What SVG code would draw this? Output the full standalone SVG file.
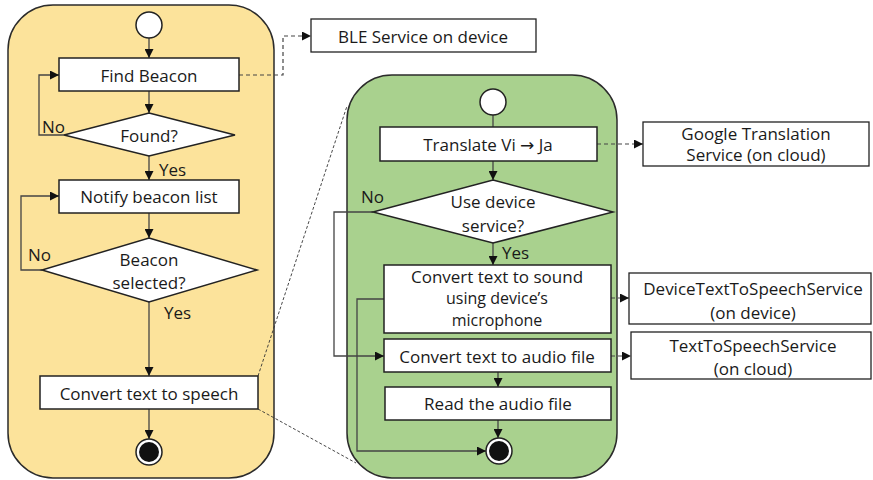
<svg xmlns="http://www.w3.org/2000/svg" width="873" height="480" viewBox="0 0 873 480">
  <defs>
    <marker id="arrow" viewBox="0 0 10 10" refX="10" refY="5" markerWidth="9" markerHeight="9" markerUnits="userSpaceOnUse" orient="auto">
      <path d="M0,0 L10,5 L0,10 z" fill="#111"/>
    </marker>
    <style>
      .lane { stroke: #2b2b2b; stroke-width: 1.5; }
      .box { fill: #fff; stroke: #222; stroke-width: 1.5; }
      .ext { fill: #fff; stroke: #222; stroke-width: 1.3; }
      .flow { fill: none; stroke: #444; stroke-width: 1.3; }
      .dash { fill: none; stroke: #444; stroke-width: 1.2; stroke-dasharray: 4 3; }
      .zoom { fill: none; stroke: #333; stroke-width: 0.9; stroke-dasharray: 3 2; }
      .start { fill: #fff; stroke: #222; stroke-width: 1.5; }
      text { font-family: "Open Sans", "Noto Sans", "DejaVu Sans", sans-serif; font-size: 17px; fill: #1a1a1a; text-anchor: middle; dominant-baseline: central; }
      .lbl { text-anchor: start; }
      .tight { font-size: 16px; }
    </style>
  </defs>

  <!-- swimlane backgrounds -->
  <rect id="lane-phone" class="lane" x="8" y="5" width="266" height="473" rx="45" ry="45" fill="#FCE39B"/>
  <rect id="lane-speech" class="lane" x="347" y="75" width="270" height="403" rx="45" ry="45" fill="#A9D18E"/>

  <!-- connectors -->
  <g id="connectors">
    <!-- phone lane -->
    <path class="flow" d="M149,38 V58" marker-end="url(#arrow)"/>
    <path class="flow" d="M149,91 V113" marker-end="url(#arrow)"/>
    <path class="flow" d="M64,135 H39 V75 H59" marker-end="url(#arrow)"/>
    <path class="flow" d="M149,156 V180" marker-end="url(#arrow)"/>
    <path class="flow" d="M149,213 V238" marker-end="url(#arrow)"/>
    <path class="flow" d="M42,270 H21 V196 H59" marker-end="url(#arrow)"/>
    <path class="flow" d="M149,302 V376" marker-end="url(#arrow)"/>
    <path class="flow" d="M149,409 V439" marker-end="url(#arrow)"/>
    <path class="dash" d="M239,75 H283 V36 H311" marker-end="url(#arrow)"/>

    <!-- detail lines -->
    <path class="zoom" d="M258,376 L347,106"/>
    <path class="zoom" d="M258,409 L356,463"/>

    <!-- speech lane -->
    <path class="flow" d="M493,115 V180" marker-end="url(#arrow)"/>
    <path class="dash" d="M597,144 H643" marker-end="url(#arrow)"/>
    <path class="flow" d="M493,243 V265" marker-end="url(#arrow)"/>
    <path class="flow" d="M373,212 H334 V356 H384" marker-end="url(#arrow)"/>
    <path class="dash" d="M611,298 H629" marker-end="url(#arrow)"/>
    <path class="dash" d="M611,356 H631" marker-end="url(#arrow)"/>
    <path class="flow" d="M498,372 V387" marker-end="url(#arrow)"/>
    <path class="flow" d="M498,420 V438" marker-end="url(#arrow)"/>
    <path class="flow" d="M384,299 H357 V451 H486" marker-end="url(#arrow)"/>
  </g>

  <!-- phone lane nodes -->
  <g id="start-1"><circle class="start" cx="149" cy="25" r="13"/></g>
  <g id="find-beacon">
    <rect class="box" x="59" y="58" width="180" height="33"/>
    <text x="149" y="75">Find Beacon</text>
  </g>
  <g id="found">
    <polygon class="box" points="149,113 235,135 149,156 64,135"/>
    <text x="149" y="135">Found?</text>
    <text class="lbl" x="42" y="126">No</text>
    <text class="lbl" x="159" y="169">Yes</text>
  </g>
  <g id="notify-list">
    <rect class="box" x="59" y="180" width="180" height="33"/>
    <text x="149" y="196">Notify beacon list</text>
  </g>
  <g id="beacon-selected">
    <polygon class="box" points="149,238 257,270 149,302 42,270"/>
    <text x="149" y="259">Beacon</text>
    <text x="149" y="282">selected?</text>
    <text class="lbl" x="28" y="254">No</text>
    <text class="lbl" x="164" y="312">Yes</text>
  </g>
  <g id="convert-speech">
    <rect class="box" x="40" y="376" width="218" height="33"/>
    <text x="149" y="393">Convert text to speech</text>
  </g>
  <g id="end-1">
    <circle cx="149" cy="452" r="13" fill="#fff" stroke="#222" stroke-width="1.5"/>
    <circle cx="149" cy="452" r="10" fill="#111"/>
  </g>

  <!-- speech lane nodes -->
  <g id="start-2"><circle class="start" cx="493" cy="102" r="13"/></g>
  <g id="translate">
    <rect class="box" x="380" y="127" width="217" height="34"/>
    <text x="488" y="144">Translate Vi → Ja</text>
  </g>
  <g id="use-device">
    <polygon class="box" points="493,180 613,212 493,243 373,212"/>
    <text x="493" y="201">Use device</text>
    <text x="493" y="225">service?</text>
    <text class="lbl" x="361" y="196">No</text>
    <text class="lbl" x="502" y="252">Yes</text>
  </g>
  <g id="device-sound">
    <rect class="box" x="384" y="265" width="227" height="68"/>
    <text x="497" y="276">Convert text to sound</text>
    <text class="tight" x="497" y="298">using device’s</text>
    <text class="tight" x="497" y="320">microphone</text>
  </g>
  <g id="audio-file">
    <rect class="box" x="384" y="339" width="227" height="33"/>
    <text x="497" y="356">Convert text to audio file</text>
  </g>
  <g id="read-audio">
    <rect class="box" x="385" y="387" width="226" height="33"/>
    <text x="498" y="403">Read the audio file</text>
  </g>
  <g id="end-2">
    <circle cx="499" cy="451" r="13" fill="#fff" stroke="#222" stroke-width="1.5"/>
    <circle cx="499" cy="451" r="10" fill="#111"/>
  </g>

  <!-- external services -->
  <g id="ble-service">
    <rect class="ext" x="311" y="19" width="225" height="33"/>
    <text x="423" y="36">BLE Service on device</text>
  </g>
  <g id="google-translation">
    <rect class="ext" x="643" y="122" width="226" height="44"/>
    <text x="756" y="133">Google Translation</text>
    <text x="756" y="154">Service (on cloud)</text>
  </g>
  <g id="device-tts">
    <rect class="ext" x="629" y="273" width="242" height="51"/>
    <text x="753" y="288">DeviceTextToSpeechService</text>
    <text x="753" y="312">(on device)</text>
  </g>
  <g id="cloud-tts">
    <rect class="ext" x="631" y="332" width="240" height="47"/>
    <text x="753" y="345">TextToSpeechService</text>
    <text x="753" y="368">(on cloud)</text>
  </g>
</svg>
